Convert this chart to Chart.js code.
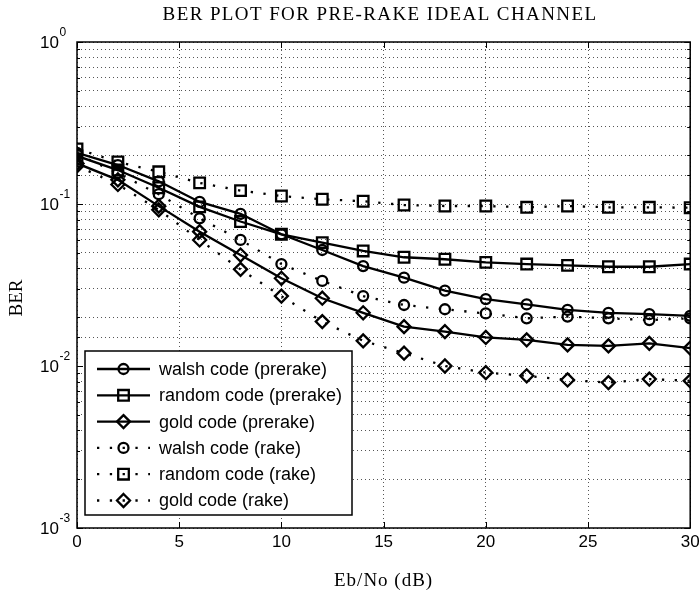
<!DOCTYPE html>
<html>
<head>
<meta charset="utf-8">
<script src="https://cdn.jsdelivr.net/npm/chart.js@4.4.1/dist/chart.umd.min.js"></script>
<style>
  body { margin: 0; background: #fff; }
  canvas { display: block; }
</style>
</head>
<body>
<canvas id="ber" width="700" height="594"></canvas>
<script>
// valores
const snr = [0, 2, 4, 6, 8, 10, 12, 14, 16, 18, 20, 22, 24, 26, 28, 30];
const walshPrerake  = [0.207, 0.174, 0.138, 0.103, 0.087, 0.065, 0.052, 0.0414, 0.0351, 0.0292, 0.0259, 0.0240, 0.0222, 0.0213, 0.0209, 0.0204];
const randomPrerake = [0.198, 0.162, 0.126, 0.096, 0.078, 0.065, 0.0577, 0.0513, 0.0469, 0.0456, 0.0436, 0.0426, 0.0418, 0.0410, 0.0410, 0.0426];
const goldPrerake   = [0.178, 0.141, 0.097, 0.0675, 0.0484, 0.0348, 0.0262, 0.0213, 0.0175, 0.0163, 0.0150, 0.0145, 0.0135, 0.0133, 0.0138, 0.0129];
const walshRake     = [0.203, 0.155, 0.115, 0.0816, 0.060, 0.0426, 0.0335, 0.0270, 0.0238, 0.0224, 0.0211, 0.0197, 0.0202, 0.0197, 0.0192, 0.0197];
const randomRake    = [0.219, 0.182, 0.158, 0.135, 0.121, 0.112, 0.107, 0.104, 0.0986, 0.0972, 0.0972, 0.0954, 0.0972, 0.0954, 0.0954, 0.0949];
const goldRake      = [0.172, 0.132, 0.092, 0.060, 0.0395, 0.027, 0.0188, 0.0143, 0.0120, 0.0100, 0.0091, 0.0087, 0.0082, 0.0079, 0.0083, 0.0081];

const xTicks = [0, 5, 10, 15, 20, 25, 30];
const yExponents = [0, -1, -2, -3];

const titulo = 'BER PLOT FOR PRE-RAKE IDEAL CHANNEL';
const tituloX = 'Eb/No (dB)';
const tituloY = 'BER';

function pontos(valores) {
    return snr.map((x, i) => ({ x: x, y: valores[i] }));
}

function serie(label, valores, estilo, pontilhado, raio) {
    return {
        label: label,
        data: pontos(valores),
        borderColor: '#000',
        borderWidth: 2.3,
        borderDash: pontilhado ? [2.3, 10.5] : [],
        pointStyle: estilo,
        pointRadius: raio,
        pointBorderWidth: 2.3,
        pointBorderColor: '#000',
        pointBackgroundColor: 'rgba(0,0,0,0)',
        pointHoverRadius: raio,
        fill: false,
        tension: 0,
        clip: 0
    };
}

const series = [
    serie('walsh code (prerake)', walshPrerake, 'circle', false, 5),
    serie('random code (prerake)', randomPrerake, 'rect', false, 7.5),
    serie('gold code (prerake)', goldPrerake, 'rectRot', false, 6.5),
    serie('walsh code (rake)', walshRake, 'circle', true, 5),
    serie('random code (rake)', randomRake, 'rect', true, 7.5),
    serie('gold code (rake)', goldRake, 'rectRot', true, 6.5)
];

// desenha um marcador na legenda
function marcador(ctx, estilo, x, y) {
    ctx.beginPath();
    if (estilo === 'circle') {
        ctx.arc(x, y, 5, 0, Math.PI * 2);
    } else if (estilo === 'rect') {
        ctx.rect(x - 5.3, y - 5.3, 10.6, 10.6);
    } else {
        ctx.moveTo(x, y - 6.5);
        ctx.lineTo(x + 6.5, y);
        ctx.lineTo(x, y + 6.5);
        ctx.lineTo(x - 6.5, y);
        ctx.closePath();
    }
    ctx.stroke();
}

const molduraPlugin = {
    id: 'moldura',
    afterDatasetsDraw(chart) {
        const ctx = chart.ctx;
        const a = chart.chartArea;
        const xs = chart.scales.x;
        const ys = chart.scales.y;
        ctx.save();
        ctx.strokeStyle = '#000';
        ctx.lineWidth = 1.5;
        ctx.setLineDash([]);
        ctx.strokeRect(a.left, a.top, a.right - a.left, a.bottom - a.top);

        // marcas internas
        ctx.lineWidth = 1;
        xTicks.forEach(t => {
            const px = Math.round(xs.getPixelForValue(t)) + 0.5;
            ctx.beginPath();
            ctx.moveTo(px, a.bottom); ctx.lineTo(px, a.bottom - 6);
            ctx.moveTo(px, a.top); ctx.lineTo(px, a.top + 6);
            ctx.stroke();
        });
        ys.ticks.forEach(t => {
            const py = Math.round(ys.getPixelForValue(t.value)) + 0.5;
            const m = Math.abs(Math.log10(t.value) - Math.round(Math.log10(t.value))) < 1e-6;
            const len = m ? 6 : 3;
            ctx.beginPath();
            ctx.moveTo(a.left, py); ctx.lineTo(a.left + len, py);
            ctx.moveTo(a.right, py); ctx.lineTo(a.right - len, py);
            ctx.stroke();
        });

        // rótulos dos eixos
        ctx.fillStyle = '#000';
        ctx.font = '17px "Liberation Sans", Arial, sans-serif';
        ctx.textAlign = 'center';
        ctx.textBaseline = 'middle';
        xTicks.forEach(t => {
            ctx.fillText(String(t), xs.getPixelForValue(t), 542);
        });
        yExponents.forEach(e => {
            const py = ys.getPixelForValue(Math.pow(10, e));
            ctx.font = '17px "Liberation Sans", Arial, sans-serif';
            ctx.textAlign = 'right';
            ctx.fillText('10', 59, py + 1);
            ctx.font = '12px "Liberation Sans", Arial, sans-serif';
            ctx.textAlign = 'left';
            ctx.fillText(String(e), 59.5, py - 9);
        });

        // títulos
        ctx.font = '19px "Liberation Serif", "Times New Roman", serif';
        ctx.textAlign = 'center';
        ctx.letterSpacing = '1.4px';
        ctx.fillText(titulo, 380, 15);
        ctx.letterSpacing = '1px';
        ctx.fillText(tituloX, (a.left + a.right) / 2, 581);
        ctx.letterSpacing = '0px';
        ctx.save();
        ctx.translate(17, 298);
        ctx.rotate(-Math.PI / 2);
        ctx.fillText(tituloY, 0, 0);
        ctx.restore();

        // legenda
        const lx = 85, ly = 351, lw = 267, lh = 164;
        ctx.fillStyle = '#fff';
        ctx.fillRect(lx, ly, lw, lh);
        ctx.strokeStyle = '#000';
        ctx.lineWidth = 1.5;
        ctx.strokeRect(lx, ly, lw, lh);
        ctx.font = '18px "Liberation Sans", Arial, sans-serif';
        ctx.textAlign = 'left';
        ctx.textBaseline = 'middle';
        chart.data.datasets.forEach((ds, i) => {
            const y = 369 + i * 26.3;
            ctx.strokeStyle = '#000';
            ctx.lineWidth = 2.3;
            ctx.setLineDash(ds.borderDash);
            ctx.beginPath();
            ctx.moveTo(97, y); ctx.lineTo(150, y);
            ctx.stroke();
            ctx.setLineDash([]);
            marcador(ctx, ds.pointStyle, 123.5, y);
            ctx.fillStyle = '#000';
            ctx.fillText(ds.label, 159, y + 1);
        });
        ctx.restore();
    }
};

new Chart(document.getElementById('ber'), {
    type: 'line',
    data: { datasets: series },
    options: {
        responsive: false,
        animation: false,
        events: [],
        layout: { padding: { left: 77, top: 42, right: 9, bottom: 66 } },
        plugins: { legend: { display: false }, title: { display: false }, tooltip: { enabled: false } },
        scales: {
            x: {
                type: 'linear',
                min: 0,
                max: 30,
                ticks: { display: false, stepSize: 5 },
                grid: { color: '#555', lineWidth: 1, drawTicks: false },
                border: { display: false, dash: [1, 3] },
                afterFit: s => { s.height = 0; }
            },
            y: {
                type: 'logarithmic',
                min: 0.001,
                max: 1,
                ticks: { display: false },
                grid: { color: '#555', lineWidth: 1, drawTicks: false },
                border: { display: false, dash: [1, 3] },
                afterFit: s => { s.width = 0; }
            }
        }
    },
    plugins: [molduraPlugin]
});
</script>
</body>
</html>
